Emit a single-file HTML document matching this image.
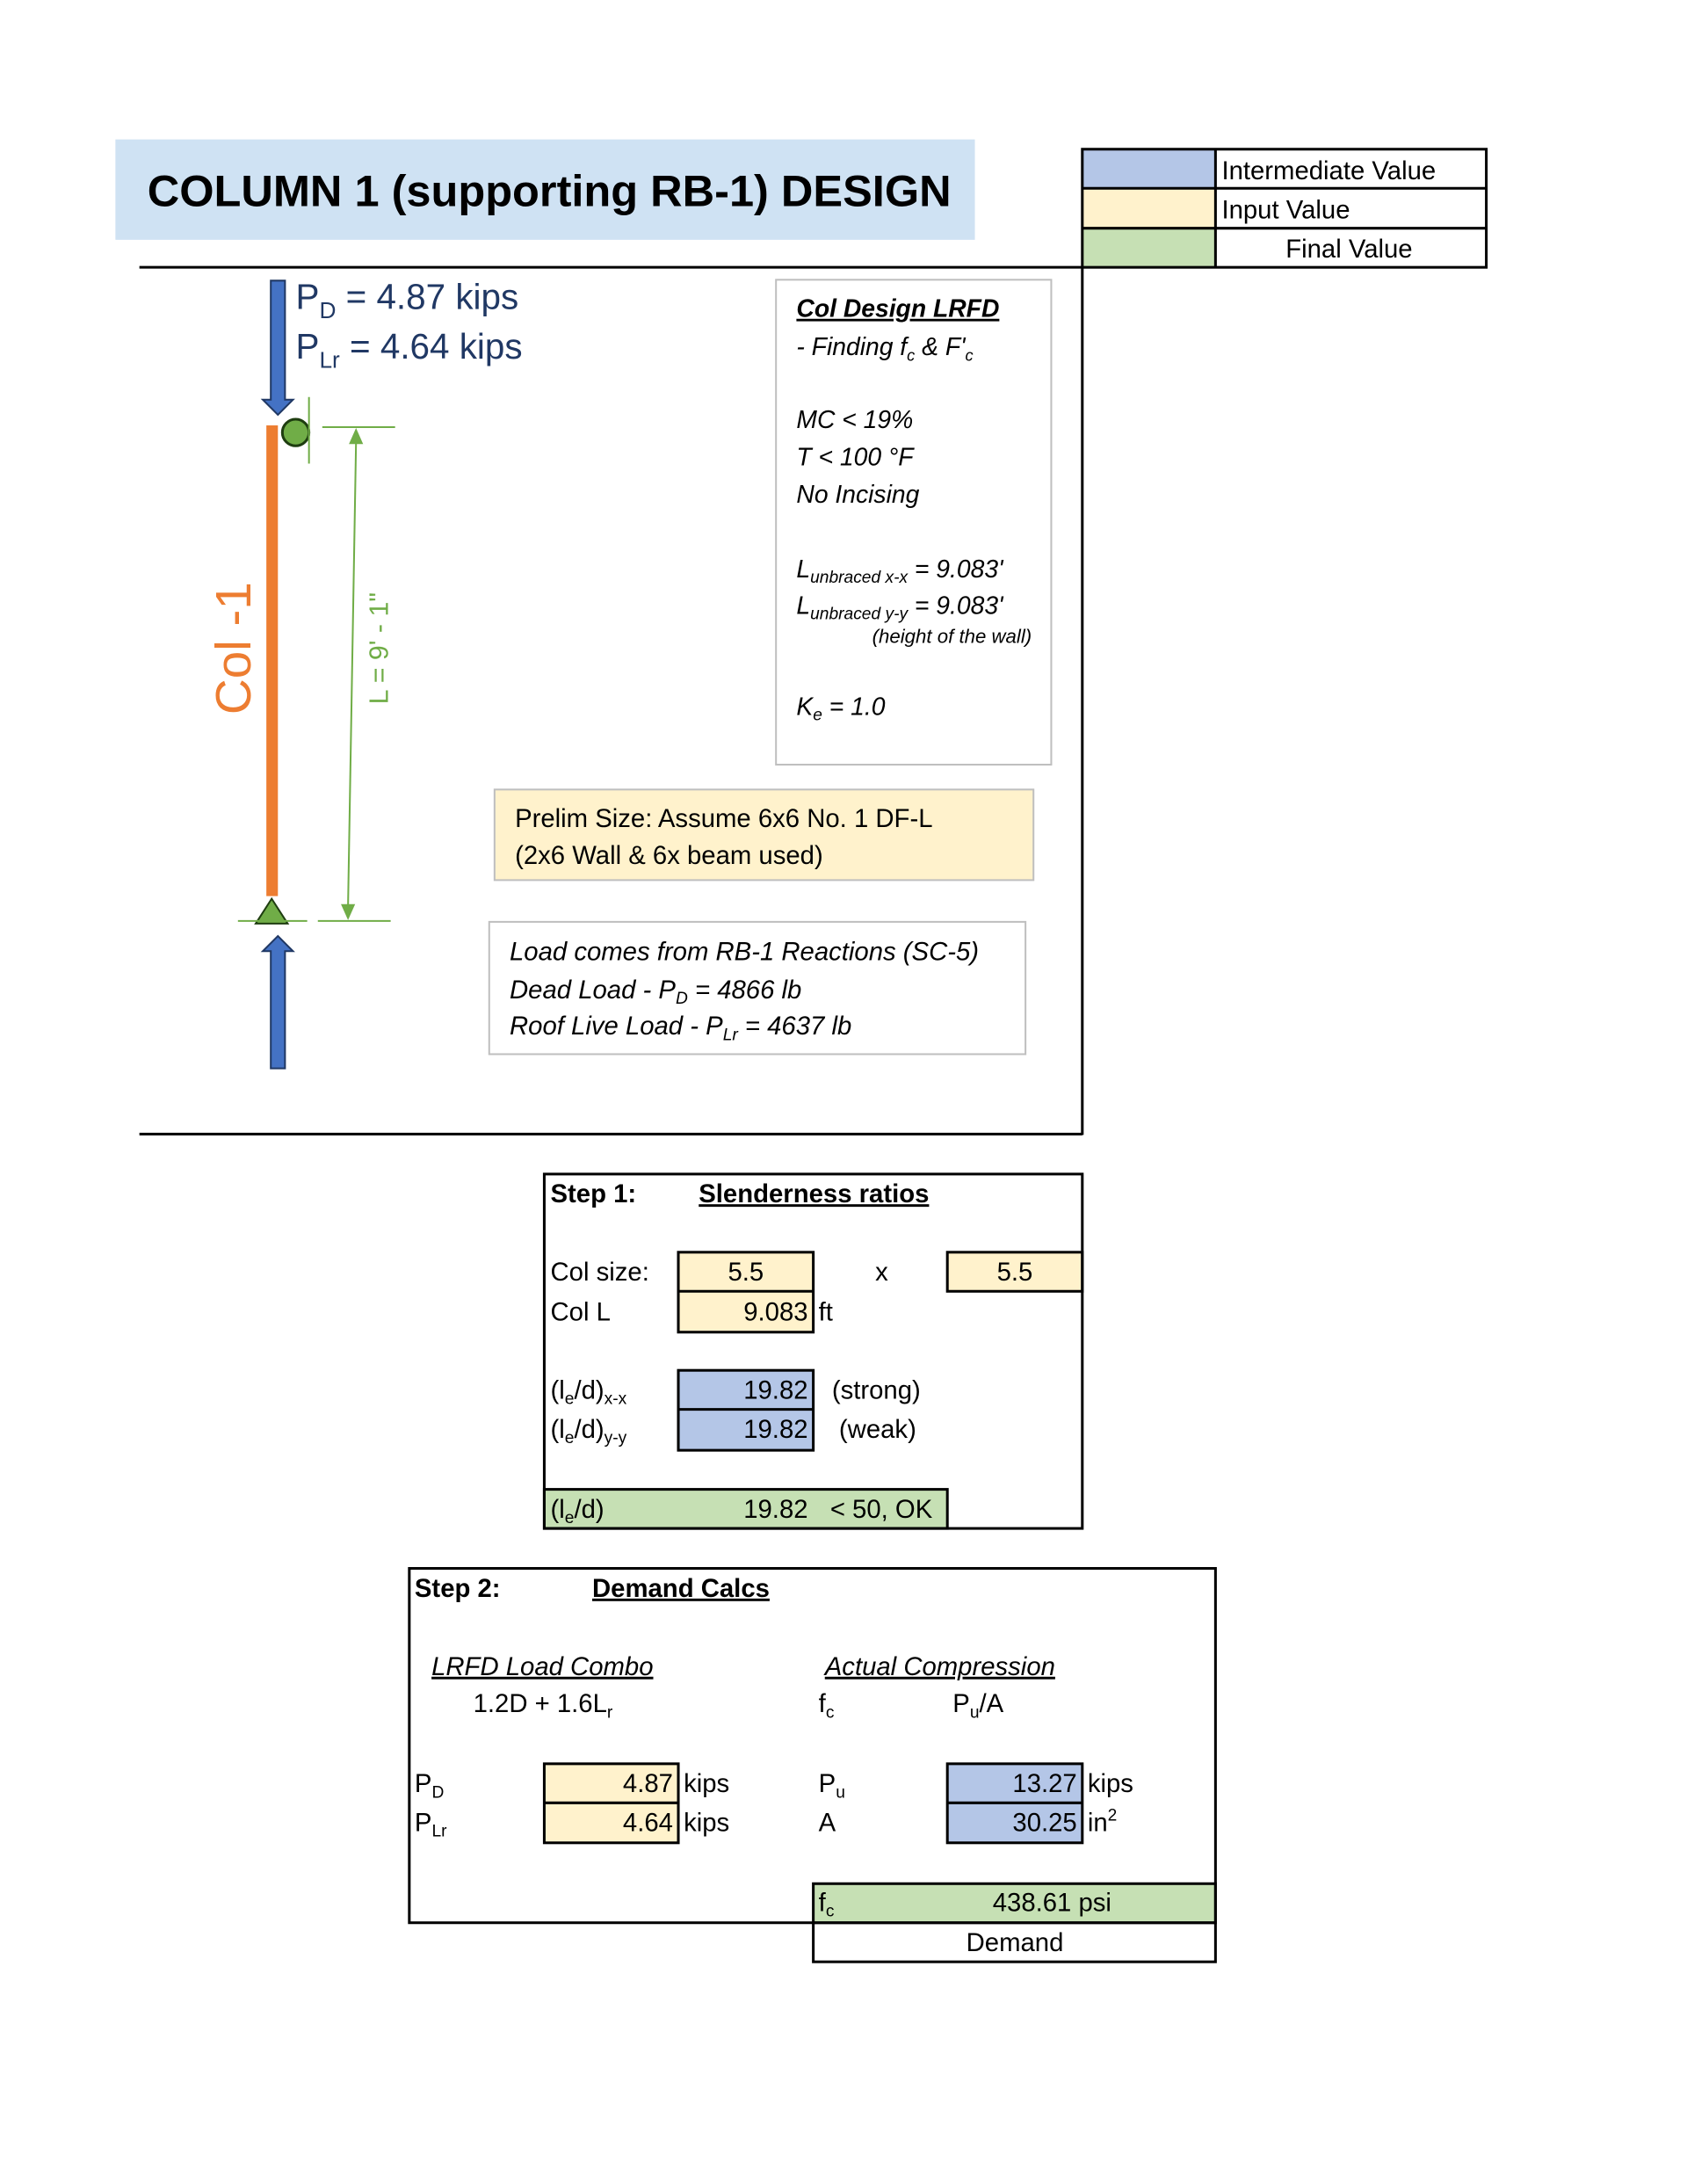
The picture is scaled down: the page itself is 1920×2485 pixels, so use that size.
<!DOCTYPE html>
<html><head><meta charset="utf-8"><style>
html,body{margin:0;padding:0;background:#fff;}
svg{display:block;}
text{font-family:"Liberation Sans",sans-serif;}
</style></head><body>
<svg width="1920" height="2485" viewBox="0 0 1920 2485" xmlns="http://www.w3.org/2000/svg">
<g transform="scale(1.0105)">
<!-- Title -->
<rect x="130" y="157" width="968" height="113" fill="#cfe2f3"/>
<text x="166" y="232" font-size="50" font-weight="bold" fill="#000">COLUMN 1 (supporting RB-1) DESIGN</text>

<!-- Legend -->
<rect x="1219" y="168" width="150" height="44" fill="#b4c6e7"/>
<rect x="1219" y="212" width="150" height="45" fill="#fff2cc"/>
<rect x="1219" y="257" width="150" height="44" fill="#c6e0b4"/>
<g stroke="#000" stroke-width="3" fill="none">
<rect x="1219" y="168" width="455" height="133"/>
<line x1="1219" y1="212" x2="1674" y2="212"/>
<line x1="1219" y1="257" x2="1674" y2="257"/>
<line x1="1369" y1="168" x2="1369" y2="301"/>
</g>
<text x="1376" y="202" font-size="29">Intermediate Value</text>
<text x="1376" y="246" font-size="29">Input Value</text>
<text x="1448" y="290" font-size="29">Final Value</text>

<!-- frame lines -->
<g stroke="#000" stroke-width="3">
<line x1="157" y1="301" x2="1219" y2="301"/>
<line x1="1219" y1="301" x2="1219" y2="1278"/>
<line x1="157" y1="1277" x2="1219" y2="1277"/>
</g>

<!-- down arrow -->
<polygon points="305,316 321,316 321,450 330,450 313,467 296,450 305,450" fill="#4472c4" stroke="#203864" stroke-width="2"/>
<!-- up arrow -->
<polygon points="305,1203 321,1203 321,1071 330,1071 313,1054 296,1071 305,1071" fill="#4472c4" stroke="#203864" stroke-width="2"/>

<text x="333" y="348" font-size="40" fill="#203864">P<tspan font-size="26" dy="10">D</tspan><tspan dy="-10"> = 4.87 kips</tspan></text>
<text x="333" y="404" font-size="40" fill="#203864">P<tspan font-size="26" dy="10">Lr</tspan><tspan dy="-10"> = 4.64 kips</tspan></text>

<!-- column -->
<rect x="300" y="479" width="13" height="530" fill="#ed7d31"/>
<circle cx="333" cy="487" r="15" fill="#70ad47" stroke="#1e3d10" stroke-width="3"/>
<polygon points="306,1012 324,1040 288,1040" fill="#70ad47" stroke="#1e3d10" stroke-width="2"/>

<!-- green dimension -->
<g stroke="#70ad47" stroke-width="2" fill="none">
<line x1="348" y1="447" x2="348" y2="522"/>
<line x1="363" y1="481" x2="445" y2="481"/>
<line x1="268" y1="1037" x2="346" y2="1037"/>
<line x1="358" y1="1037" x2="440" y2="1037"/>
<line x1="401" y1="498" x2="392" y2="1020"/>
</g>
<polygon points="401,482 393,500 409,500" fill="#70ad47"/>
<polygon points="392,1036 384,1018 400,1018" fill="#70ad47"/>
<text transform="translate(437,730) rotate(-90)" text-anchor="middle" font-size="30" fill="#70ad47">L = 9' - 1"</text>
<text transform="translate(282,730) rotate(-90)" text-anchor="middle" font-size="56" fill="#ed7d31">Col -1</text>

<!-- Col design box -->
<rect x="874" y="315" width="310" height="546" fill="none" stroke="#bfbfbf" stroke-width="2"/>
<g font-size="28" font-style="italic">
<text x="897" y="357" font-weight="bold" text-decoration="underline">Col Design LRFD</text>
<text x="897" y="400">- Finding f<tspan font-size="18" dy="6">c</tspan><tspan dy="-6"> &amp; F'</tspan><tspan font-size="18" dy="6">c</tspan></text>
<text x="897" y="482">MC &lt; 19%</text>
<text x="897" y="524">T &lt; 100 °F</text>
<text x="897" y="566">No Incising</text>
<text x="897" y="650">L<tspan font-size="19" dy="6">unbraced x-x</tspan><tspan dy="-6"> = 9.083'</tspan></text>
<text x="897" y="691">L<tspan font-size="19" dy="6">unbraced y-y</tspan><tspan dy="-6"> = 9.083'</tspan></text>
<text x="1162" y="724" font-size="22" text-anchor="end">(height of the wall)</text>
<text x="897" y="805">K<tspan font-size="19" dy="6">e</tspan><tspan dy="-6"> = 1.0</tspan></text>
</g>

<!-- Prelim -->
<rect x="557" y="889" width="607" height="102" fill="#fff2cc" stroke="#bfbfbf" stroke-width="2"/>
<text x="580" y="931" font-size="29">Prelim Size: Assume 6x6 No. 1 DF-L</text>
<text x="580" y="973" font-size="29">(2x6 Wall &amp; 6x beam used)</text>

<!-- Load box -->
<rect x="551" y="1038" width="604" height="149" fill="none" stroke="#bfbfbf" stroke-width="2"/>
<g font-size="29" font-style="italic">
<text x="574" y="1081">Load comes from RB-1 Reactions (SC-5)</text>
<text x="574" y="1124">Dead Load - P<tspan font-size="19" dy="6">D</tspan><tspan dy="-6"> = 4866 lb</tspan></text>
<text x="574" y="1165">Roof Live Load - P<tspan font-size="19" dy="6">Lr</tspan><tspan dy="-6"> = 4637 lb</tspan></text>
</g>

<!-- Step 1 -->
<rect x="764" y="1410" width="152" height="90" fill="#fff2cc"/>
<rect x="1067" y="1410" width="152" height="44" fill="#fff2cc"/>
<rect x="764" y="1543" width="152" height="90" fill="#b4c6e7"/>
<rect x="613" y="1677" width="454" height="44" fill="#c6e0b4"/>
<g stroke="#000" stroke-width="3" fill="none">
<rect x="613" y="1322" width="606" height="399"/>
<rect x="764" y="1410" width="152" height="90"/>
<line x1="764" y1="1454" x2="916" y2="1454"/>
<rect x="1067" y="1410" width="152" height="44"/>
<rect x="764" y="1543" width="152" height="90"/>
<line x1="764" y1="1587" x2="916" y2="1587"/>
<rect x="613" y="1677" width="454" height="44"/>
</g>
<g font-size="29">
<text x="620" y="1354" font-weight="bold">Step 1:</text>
<text x="787" y="1354" font-weight="bold" text-decoration="underline">Slenderness ratios</text>
<text x="620" y="1442">Col size:</text>
<text x="840" y="1442" text-anchor="middle">5.5</text>
<text x="993" y="1442" text-anchor="middle">x</text>
<text x="1143" y="1442" text-anchor="middle">5.5</text>
<text x="620" y="1487">Col L</text>
<text x="910" y="1487" text-anchor="end">9.083</text>
<text x="922" y="1487">ft</text>
<text x="620" y="1575">(l<tspan font-size="19" dy="6">e</tspan><tspan dy="-6">/d)</tspan><tspan font-size="19" dy="6">x-x</tspan></text>
<text x="910" y="1575" text-anchor="end">19.82</text>
<text x="937" y="1575">(strong)</text>
<text x="620" y="1619">(l<tspan font-size="19" dy="6">e</tspan><tspan dy="-6">/d)</tspan><tspan font-size="19" dy="6">y-y</tspan></text>
<text x="910" y="1619" text-anchor="end">19.82</text>
<text x="945" y="1619">(weak)</text>
<text x="620" y="1709">(l<tspan font-size="19" dy="6">e</tspan><tspan dy="-6">/d)</tspan></text>
<text x="910" y="1709" text-anchor="end">19.82</text>
<text x="935" y="1709">&lt; 50, OK</text>
</g>

<!-- Step 2 -->
<rect x="613" y="1986" width="151" height="89" fill="#fff2cc"/>
<rect x="1067" y="1986" width="152" height="89" fill="#b4c6e7"/>
<rect x="916" y="2121" width="453" height="44" fill="#c6e0b4"/>
<g stroke="#000" stroke-width="3" fill="none">
<rect x="461" y="1766" width="908" height="399"/>
<rect x="613" y="1986" width="151" height="89"/>
<line x1="613" y1="2030" x2="764" y2="2030"/>
<rect x="1067" y="1986" width="152" height="89"/>
<line x1="1067" y1="2030" x2="1219" y2="2030"/>
<rect x="916" y="2121" width="453" height="88"/>
<line x1="916" y1="2165" x2="1369" y2="2165"/>
</g>
<g font-size="29">
<text x="467" y="1798" font-weight="bold">Step 2:</text>
<text x="667" y="1798" font-weight="bold" text-decoration="underline">Demand Calcs</text>
<text x="486" y="1886" font-style="italic" text-decoration="underline">LRFD Load Combo</text>
<text x="533" y="1928">1.2D + 1.6L<tspan font-size="19" dy="6">r</tspan></text>
<text x="929" y="1886" font-style="italic" text-decoration="underline">Actual Compression</text>
<text x="922" y="1928">f<tspan font-size="19" dy="6">c</tspan></text>
<text x="1073" y="1928">P<tspan font-size="19" dy="6">u</tspan><tspan dy="-6">/A</tspan></text>
<text x="467" y="2018">P<tspan font-size="19" dy="6">D</tspan></text>
<text x="758" y="2018" text-anchor="end">4.87</text>
<text x="770" y="2018">kips</text>
<text x="467" y="2062">P<tspan font-size="19" dy="6">Lr</tspan></text>
<text x="758" y="2062" text-anchor="end">4.64</text>
<text x="770" y="2062">kips</text>
<text x="922" y="2018">P<tspan font-size="19" dy="6">u</tspan></text>
<text x="1213" y="2018" text-anchor="end">13.27</text>
<text x="1225" y="2018">kips</text>
<text x="922" y="2062">A</text>
<text x="1213" y="2062" text-anchor="end">30.25</text>
<text x="1225" y="2062">in<tspan font-size="19" dy="-12">2</tspan></text>
<text x="922" y="2152">f<tspan font-size="19" dy="6">c</tspan></text>
<text x="1118" y="2152">438.61  psi</text>
<text x="1143" y="2197" text-anchor="middle">Demand</text>
</g>
</g>
</svg>
</body></html>
